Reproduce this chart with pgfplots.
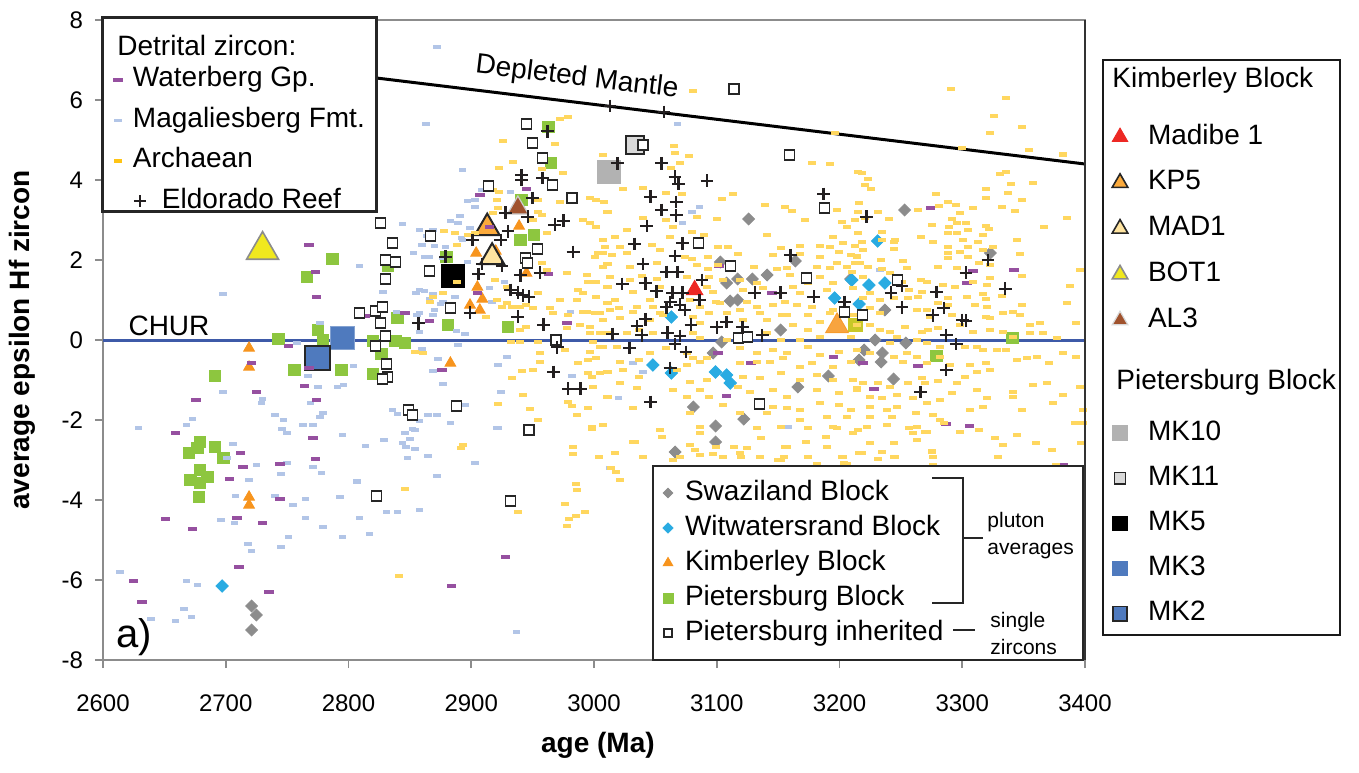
\documentclass[border=0pt]{standalone}
\usepackage{pgfplots}
\pgfplotsset{compat=1.18}
\usepackage{fontspec}
\setmainfont{Liberation Sans}
\usetikzlibrary{plotmarks}

\definecolor{wbc}{RGB}{150,80,160}
\definecolor{mgc}{RGB}{178,197,231}
\definecolor{arc}{RGB}{255,215,95}
\definecolor{arcleg}{RGB}{255,196,20}
\definecolor{crossc}{RGB}{35,31,32}
\definecolor{swc}{RGB}{140,140,140}
\definecolor{wwc}{RGB}{41,171,226}
\definecolor{kbc}{RGB}{247,148,29}
\definecolor{pbc}{RGB}{141,198,63}
\definecolor{churc}{RGB}{62,90,168}
\definecolor{madibec}{RGB}{237,40,36}
\definecolor{kp5c}{RGB}{251,170,60}
\definecolor{mad1c}{RGB}{255,228,160}
\definecolor{bot1c}{RGB}{240,232,30}
\definecolor{al3c}{RGB}{160,82,45}
\definecolor{mk10c}{RGB}{178,178,178}
\definecolor{mk11c}{RGB}{217,217,217}
\definecolor{mkblue}{RGB}{79,122,190}
\definecolor{olivec}{RGB}{200,200,40}

\pgfdeclareplotmark{ydash}{\pgfpathrectangle{\pgfqpoint{-2pt}{-0.9pt}}{\pgfqpoint{4pt}{1.8pt}}\pgfusepathqfill}
\pgfdeclareplotmark{bdash}{\pgfpathrectangle{\pgfqpoint{-1.9pt}{-0.8pt}}{\pgfqpoint{3.8pt}{1.6pt}}\pgfusepathqfill}
\pgfdeclareplotmark{pdash}{\pgfpathrectangle{\pgfqpoint{-2.4pt}{-1.1pt}}{\pgfqpoint{4.8pt}{2.2pt}}\pgfusepathqfill}

\pgfplotsset{
  legimg/.style 2 args={legend image code/.code={%
    \path[draw=none,fill=none] (-#1,-3pt) rectangle (#2,3pt);%
    \pgfinterruptboundingbox\draw[##1] plot coordinates {(0pt,0pt)};\endpgfinterruptboundingbox}},
  legaxis/.style={at={(0pt,0pt)}, anchor=south west, width=491pt, height=320pt, scale only axis, hide axis,
    xmin=0, xmax=1, ymin=0, ymax=1, legend cell align=left},
}

\begin{document}
\begin{tikzpicture}
\begin{axis}[
  at={(0pt,0pt)}, anchor=south west,
  width=491pt, height=320pt, scale only axis,
  xmin=2600, xmax=3400, ymin=-8, ymax=8,
  xtick={2600,2700,...,3400}, ytick={-8,-6,...,8},
  /pgf/number format/1000 sep={},
  /pgf/number format/assume math mode=true,
  ticklabel style={font=\fontsize{12}{14}\selectfont},
  xticklabel style={yshift=-10pt},
  yticklabel style={xshift=-2.5pt},
  tick align=outside, major tick length=4pt,
  xtick pos=bottom, ytick pos=left,
  tick style={draw=black!45, line width=0.9pt},
  axis line style={draw=black!45, line width=1.3pt},
  xlabel={age (Ma)}, ylabel={average epsilon Hf zircon},
  label style={font=\bfseries\fontsize{14}{16}\selectfont},
  xlabel style={at={(axis description cs:0.504,-0.133)}, anchor=center},
  ylabel style={at={(axis description cs:-0.0825,0.5)}, anchor=center},
]
% reference lines
\addplot[churc, line width=1.5pt] coordinates {(2600,0) (3400,0)};
\addplot[black, line width=1.5pt] coordinates {(2600,7.38) (3400,4.40)};

% Pietersburg Block pluton averages
\addplot[only marks, mark=square*, mark size=2.9pt, color=pbc] coordinates {
(2963,5.325)(2965,4.425)(2941,3.5)(2940,2.5)(2951,2.625)(2880,2.075)(2930,0.325)(3341,0.05)(3279,-0.4)
(2787,2.025)(2766,1.575)(2743,0.025)(2775,0.25)(2779,0.0)(2756,-0.75)(2794,-0.75)(2820,-0.85)(2827,-0.35)
(2820,-0.025)(2838,-0.025)(2846,-0.075)(2840,0.55)(2881,0.375)(2691,-0.9)(2832,1.85)
(2679,-2.55)(2677,-2.7)(2670,-2.825)(2691,-2.675)(2698,-2.95)(2679,-3.25)(2685,-3.425)(2671,-3.5)(2679,-3.575)(2678,-3.925)};
\addplot[only marks, mark=square*, mark size=3.3pt, color=olivec] coordinates {(3213,0.375)};

% Swaziland Block
\addplot[only marks, mark=square*, mark size=2.1pt, mark options={rotate=45}, color=swc] coordinates {
(3081,-1.675)(3066,-2.8)(3099,-2.15)(3099,-2.55)(3122,-1.975)(3097,-0.325)(3104,-0.05)(3108,1.425)(3103,1.95)
(3111,0.975)(3117,1.0)(3117,1.525)(3129,1.525)(3141,1.625)(3126,3.025)(3164,1.975)(3152,0.25)(3166,-1.175)
(3191,-0.9)(3209,1.525)(3237,0.75)(3253,3.25)(3229,0.0)(3220,-0.25)(3235,-0.325)(3234,-0.55)(3216,-0.5)
(3244,-0.975)(3254,-0.075)(3323,2.175)(2721,-6.65)(2725,-6.875)(2721,-7.25)};

% Witwatersrand Block
\addplot[only marks, mark=square*, mark size=2.2pt, mark options={rotate=45}, color=wwc] coordinates {
(3048,-0.625)(3063,-0.825)(3099,-0.8)(3108,-0.875)(3111,-1.075)(3063,0.575)(3231,2.475)(3224,1.375)
(3237,1.425)(3196,1.05)(3216,0.9)(3210,1.5)(2697,-6.15)};

% Kimberley Block
\addplot[only marks, mark=triangle*, mark size=3.1pt, color=kbc] coordinates {
(2719,-0.2)(2719,-0.675)(2719,-3.925)(2719,-4.125)(2883,-0.575)(2899,0.875)(2909,1.025)(2907,0.75)
(2905,1.325)(2904,2.175)(2920,2.225)(2939,2.85)(2945,1.675)};

% individual samples
\addplot[only marks, mark=triangle*, mark size=9.2pt, mark options={fill=bot1c, draw=black!45, line width=0.8pt}] coordinates {(2730,2.25)};
\addplot[only marks, mark=triangle*, mark size=7.2pt, mark options={fill=kp5c, draw=black!85, line width=1pt}] coordinates {(2913,2.8)};
\addplot[only marks, mark=triangle*, mark size=7.0pt, mark options={fill=mad1c, draw=black!85, line width=1pt}] coordinates {(2917,2.07)};
\addplot[only marks, mark=triangle*, mark size=6.0pt, mark options={fill=al3c, draw=black!20, line width=0.6pt}] coordinates {(2938,3.3)};
\addplot[only marks, mark=triangle*, mark size=4.8pt, mark options={fill=madibec, draw=madibec}] coordinates {(3082,1.25)};
\addplot[only marks, mark=triangle*, mark size=6.6pt, mark options={fill=kbc, draw=kbc, opacity=0.85}] coordinates {(3198,0.35)};
\addplot[only marks, mark=square*, mark size=5.7pt, mark options={fill=mk10c, draw=mk10c}] coordinates {(3012,4.2)};
\addplot[only marks, mark=square*, mark size=4.5pt, mark options={fill=mk11c, draw=black!85, line width=1pt}] coordinates {(3033,4.87)};
\addplot[only marks, mark=square*, mark size=5.7pt, mark options={fill=black, draw=black}] coordinates {(2885,1.6)};
\addplot[only marks, mark=square*, mark size=5.8pt, mark options={fill=mkblue, draw=mkblue!70}] coordinates {(2795,0.05)};
\addplot[only marks, mark=square*, mark size=6.2pt, mark options={fill=mkblue, draw=black!85, line width=1pt}] coordinates {(2775,-0.45)};

% Magaliesberg Fmt.
\addplot[only marks, mark=bdash, color=mgc] coordinates {
(2698,1.15)(2809,1.85)(2828,1.2)(2855,1.175)(2862,1.225)(2869,1.15)(2877,0.95)(2869,0.625)(2858,0.2)(2860,-0.225)
(2873,-0.475)(2888,0.225)(2895,0.15)(2889,-0.125)(2777,0.425)(2758,-0.075)(2804,-0.65)(2767,-0.9)(2791,-1.175)
(2796,-1.125)(2775,-1.175)(2698,-1.3)(2730,-1.475)(2729,-1.575)(2769,-1.575)(2779,-1.825)(2777,-1.925)(2740,-1.875)
(2747,-2.0)(2673,-1.975)(2668,-2.125)(2629,-2.2)(2746,-2.225)(2750,-2.325)(2763,-2.125)(2771,-2.125)(2795,-2.375)
(2814,-2.65)(2829,-2.5)(2844,-2.575)(2847,-2.675)(2850,-2.475)(2854,-2.725)(2865,-2.9)(2848,-2.95)(2854,-2.25)
(2865,-1.875)(2872,-1.875)(2883,-2.075)(2903,-3.075)(2872,-3.4)(2921,-2.2)(2895,-1.625)(2706,-2.6)(2701,-2.95)
(2725,-3.125)(2750,-3.075)(2771,-3.175)(2778,-3.325)(2745,-3.35)(2719,-3.5)(2793,-3.925)(2807,-3.55)(2765,-3.975)
(2708,-3.9)(2740,-3.9)(2755,-4.125)(2696,-4.5)(2707,-4.575)(2765,-4.45)(2779,-4.675)(2809,-4.45)(2831,-4.3)
(2840,-4.3)(2858,-4.25)(2751,-4.925)(2745,-5.175)(2718,-5.1)(2721,-5.275)(2795,-4.925)(2817,-4.85)(2614,-5.8)
(2668,-6.025)(2677,-6.125)(2666,-6.725)(2672,-6.925)(2639,-6.975)(2659,-7.025)(2937,-7.3)(2872,7.325)(2863,5.4)
(2893,4.25)(2897,3.475)(2903,3.5)(2903,3.325)(2883,2.975)(2889,2.925)(2844,2.9)(2858,2.75)(2869,2.75)(2899,2.8)
(2893,2.5)(2853,2.175)(2862,2.075)(2877,2.05)(2909,3.75)(2932,3.7)(2891,3.1)(2864,2.6)(2860,2.375)(2870,2.35)
(2879,2.325)(2866,2.075)(2892,2.55)(2897,1.95)(2927,1.45)(2915,1.3)(2858,1.25)(2866,1.025)(2875,0.9)(2887,1.075)
(2917,0.95)(2858,0.675)(2870,0.75)(3068,5.4)(3086,3.325)(3080,3.2)(3072,2.925)(2839,0.7)(2856,0.625)(2869,-0.775)
(2877,-1.1)(2922,-0.625)(2929,-0.425)(2924,-1.3)(2982,-0.9)(2836,-1.75)(2840,-1.85)(2858,-2.025)(2893,-1.625)
(2922,-2.2)(2852,-2.225)(2846,-2.325)(2807,-3.525)(3032,-0.575)(3040,-0.8)(3020,-1.45)(3158,-2.175)(3013,-3.2)
(2981,0.7)(3233,1.75)};

% Waterberg Gp.
\addplot[only marks, mark=pdash, color=wbc] coordinates {
(2773,1.7)(2774,1.075)(2814,0.6)(2846,0.675)(2866,0.475)(2751,-0.15)(2721,-0.575)(2768,-0.7)(2876,-0.75)
(2764,-1.15)(2725,-1.3)(2676,-1.5)(2774,-1.5)(2905,1.175)(2659,-2.325)(2771,-2.45)(2712,-2.825)(2773,-2.975)
(2714,-3.175)(2744,-3.1)(2703,-3.475)(2744,-3.975)(2651,-4.475)(2673,-4.725)(2709,-4.45)(2730,-4.575)
(2711,-5.675)(2625,-6.025)(2735,-6.3)(2632,-6.55)(2928,-5.425)(2884,-6.15)(2768,2.375)(2907,3.625)(2945,3.775)
(2915,2.825)(2963,1.65)(2978,0.425)(3102,1.85)(3145,1.175)(3101,-0.325)(3195,-0.425)(3219,-0.575)(3264,-0.65)
(3128,-0.575)(3108,-1.4)(3228,-1.225)(3287,-2.1)(3306,-2.15)(3382,-3.125)(3309,1.725)(3342,1.75)(3304,1.425)
(3274,3.3)};

% Archaean
\addplot[only marks, mark=ydash, color=arc] coordinates {
(3382,4.625)(3331,4.15)(3336,4.2)(3218,4.175)(3223,4.025)(3221,3.875)(3226,3.775)(3358,3.925)(3340,3.9)(3319,3.775)
(3279,3.65)(3337,3.675)(3216,3.425)(3319,3.55)(3349,3.5)(3288,3.45)(3295,3.375)(3281,3.35)(3309,3.3)(3332,3.325)
(3343,3.225)(3298,3.175)(3264,3.25)(3240,3.025)(3292,3.025)(3385,3.05)(3289,2.825)(3319,2.85)(3275,2.875)(3296,2.925)
(3303,2.925)(3367,2.825)(3215,2.675)(3235,2.7)(3288,2.675)(3296,2.675)(3305,2.75)(3317,2.625)(3322,2.775)(3244,2.45)
(3266,2.575)(3276,2.45)(3301,2.5)(3313,2.45)(3345,2.5)(3218,2.45)(3219,2.25)(3214,2.075)(3244,2.275)(3252,1.975)
(3234,2.0)(3288,2.325)(3288,2.175)(3298,2.2)(3305,2.325)(3317,2.25)(3325,2.325)(3347,2.15)(3288,2.05)(3280,1.825)
(3296,1.8)(3305,2.075)(3314,1.925)(3323,1.875)(3235,1.775)(3223,1.825)(3255,1.8)(3217,1.925)(3210,1.7)(3219,1.575)
(3241,1.675)(3251,1.45)(3266,1.5)(3271,1.45)(3257,1.25)(3267,1.2)(3284,1.375)(3294,1.325)(3309,1.45)(3323,1.55)
(3320,1.375)(3349,1.6)(3388,1.35)(3396,1.75)(3211,1.3)(3225,1.175)(3219,1.05)(3233,1.0)(3244,1.05)(3256,1.05)
(3264,1.075)(3280,0.925)(3288,1.05)(3288,0.875)(3304,1.075)(3317,1.15)(3319,1.025)(3332,1.1)(3310,0.875)(3320,0.825)
(3349,0.875)(3385,0.925)(3225,0.8)(3233,0.675)(3263,0.75)(3271,0.75)(3274,0.575)(3292,0.625)(3319,0.575)(3323,0.55)
(3333,0.675)(3341,0.7)(3347,0.625)(3355,0.375)(3363,0.425)(3393,0.425)(3225,0.375)(3233,0.25)(3241,0.2)(3253,0.325)
(3267,0.2)(3272,0.25)(3280,0.3)(3298,0.375)(3309,0.2)(3323,0.25)(3333,0.2)(3341,0.075)(3355,0.175)(3366,0.175)
(3377,0.05)(3247,0.075)(3263,0.0)(3271,-0.075)(3282,-0.175)(3302,-0.175)(3312,-0.175)(3317,-0.25)(3328,-0.25)(3336,-0.25)
(3353,-0.45)(3361,-0.425)(3382,-0.325)(3393,-0.425)(3371,-0.575)(3345,-0.5)(3241,-0.075)(3255,-0.325)(3263,-0.425)(3271,-0.575)
(3252,-0.55)(3225,-0.325)(3244,-0.425)(3282,-0.425)(3290,-0.625)(3306,-0.625)(3319,-0.575)(3323,-0.75)(3312,-0.8)(3302,-0.925)
(3296,-1.075)(3280,-1.025)(3267,-0.95)(3270,-1.075)(3256,-1.075)(3241,-1.175)(3231,-1.075)(3219,-1.075)(3214,-1.25)(3225,-1.425)
(3235,-1.45)(3247,-1.375)(3260,-1.45)(3271,-1.575)(3282,-1.5)(3292,-1.325)(3312,-1.25)(3320,-1.45)(3341,-1.3)(3341,-1.425)
(3358,-1.125)(3369,-1.075)(3382,-1.375)(3396,-1.175)(3225,-1.675)(3239,-1.75)(3247,-1.675)(3262,-1.825)(3276,-1.875)(3282,-2.0)
(3243,-1.925)(3225,-1.925)(3306,-1.75)(3317,-1.675)(3349,-1.75)(3374,-1.575)(3398,-1.75)(3222,-2.175)(3263,-2.175)(3271,-2.3)
(3225,-2.575)(3244,-2.575)(3260,-2.325)(3263,-2.5)(3275,-2.8)(3235,-2.8)(3218,-2.825)(3244,-2.925)(3333,-2.625)(3398,-2.075)
(3065,4.85)(3066,4.675)(3077,4.6)(3070,4.425)(3063,4.3)(3178,4.425)(3192,4.4)(3215,4.2)(3024,3.775)(3040,3.8)
(3059,3.675)(3072,3.65)(3113,3.65)(3104,3.525)(3139,3.375)(3156,3.325)(3161,3.225)(3008,3.45)(3011,3.2)(3040,3.05)
(3059,3.0)(3084,3.075)(3100,3.025)(3172,3.0)(3202,2.95)(3206,2.825)(3213,3.0)(3064,2.825)(3027,2.75)(3080,2.7)
(3062,2.575)(3090,2.625)(3141,2.625)(3195,2.575)(3203,2.425)(3213,2.35)(3017,2.575)(3007,2.5)(3021,2.325)(3047,2.375)
(3101,2.325)(3109,2.325)(3152,2.3)(3168,2.35)(3184,2.35)(3192,2.325)(3200,2.2)(3209,2.125)(3214,2.1)(3007,2.175)
(3015,2.125)(3027,2.175)(3054,2.25)(3074,2.075)(3080,2.025)(3093,2.075)(3117,2.15)(3146,2.125)(3168,2.15)(3184,2.075)
(3011,1.9)(3007,1.825)(3029,1.825)(3051,1.925)(3084,1.875)(3093,1.775)(3101,1.875)(3130,1.825)(3149,1.775)(3157,1.8)
(3182,1.825)(3192,1.8)(3198,1.925)(3206,1.825)(3213,1.925)(3013,1.575)(3029,1.5)(3039,1.6)(3051,1.525)(3076,1.575)
(3094,1.575)(3105,1.5)(3119,1.5)(3133,1.425)(3160,1.625)(3174,1.425)(3184,1.575)(3195,1.425)(3011,1.325)(3032,1.2)
(3054,1.325)(3092,1.325)(3097,1.2)(3121,1.25)(3138,1.3)(3162,1.325)(3168,1.175)(3190,1.25)(3017,1.0)(3046,1.0)
(3078,1.0)(3099,0.95)(3125,0.95)(3146,0.875)(3156,0.95)(3165,0.875)(3013,0.75)(3032,0.7)(3054,0.675)(3094,0.675)
(3108,0.675)(3135,0.675)(3153,0.625)(3174,0.625)(3192,0.675)(3211,0.625)
(3011,0.925)(3020,0.8)(3035,0.825)(3048,0.825)(3086,0.825)(3103,0.925)(3119,0.75)(3133,0.825)(3157,0.625)(3178,0.825)
(3195,0.75)(3007,0.5)(3021,0.55)(3046,0.5)(3056,0.625)(3081,0.575)(3086,0.425)(3121,0.5)(3141,0.5)(3162,0.375)
(3174,0.25)(3184,0.45)(3214,0.375)(3011,0.175)(3027,0.175)(3037,0.25)(3048,0.175)(3081,0.175)(3086,0.05)(3108,0.0)
(3141,0.175)(3152,0.0)(3168,0.0)(3184,0.075)(3209,0.075)(3007,-0.175)(3019,-0.175)(3046,-0.325)(3059,-0.2)(3076,-0.325)
(3081,-0.45)(3092,-0.45)(3119,-0.2)(3133,-0.325)(3146,-0.25)(3157,-0.325)(3174,-0.175)(3184,-0.375)(3200,-0.3)(3214,-0.25)
(3021,-0.55)(3037,-0.5)(3076,-0.625)(3086,-0.55)(3119,-0.575)(3133,-0.55)(3143,-0.55)(3154,-0.45)(3168,-0.675)(3178,-0.575)
(3195,-0.675)(3209,-0.55)(3011,-0.8)(3024,-0.75)(3037,-0.925)(3068,-0.75)(3078,-1.05)(3092,-1.0)(3121,-0.925)(3135,-0.95)
(3152,-0.825)(3168,-1.0)(3182,-0.875)(3195,-1.0)(3211,-1.0)(3021,-1.075)(3035,-1.2)(3064,-1.25)(3086,-1.25)(3117,-1.175)
(3127,-1.3)(3146,-1.25)(3157,-1.425)(3182,-1.25)(3200,-1.325)(3214,-1.2)(3011,-1.425)(3032,-1.7)(3076,-1.425)(3094,-1.425)
(3105,-1.625)(3146,-1.675)(3157,-1.7)(3168,-1.75)(3184,-1.575)(3200,-1.625)(3209,-1.75)(3078,-1.825)(3119,-1.825)(3141,-1.825)
(3168,-2.0)(3190,-1.925)(3206,-1.925)(3007,-2.125)(3054,-2.25)(3086,-2.175)(3133,-2.2)(3152,-2.175)(3174,-2.2)(3195,-2.175)
(3211,-2.325)(3032,-2.55)(3078,-2.625)(3125,-2.7)(3157,-2.675)(3190,-2.675)(3040,-2.925)(3086,-2.875)(3105,-2.925)(3135,-2.925)
(3152,-3.0)(3174,-2.925)(3203,-2.925)(3021,-3.5)(3070,-2.925)(3157,-3.25)
(2979,5.575)(2972,5.525)(2926,4.975)(2968,4.9)(2934,4.45)(2923,4.3)(2958,4.275)(2975,4.175)(2918,3.75)(2921,3.5)
(2922,3.3)(2954,3.5)(2972,3.45)(2997,3.55)(3002,3.5)(2954,3.2)(2950,3.0)(2958,3.125)(2878,2.725)(2897,2.625)
(2903,2.675)(2962,2.675)(2991,3.0)(2997,2.925)(3002,2.825)(3009,2.325)(3003,2.175)(3001,2.075)(2958,1.925)(2962,1.75)
(2978,1.675)(2994,1.625)(2995,1.45)(3002,1.45)(2987,1.25)(2991,1.175)(3002,1.075)(2954,1.175)(2929,1.325)(2919,1.5)
(2921,1.0)(2929,0.925)(2869,1.075)(2877,1.175)(2888,1.45)(2940,0.825)(2950,0.8)(2964,0.8)(2972,1.0)(2986,1.0)
(2991,0.7)(3001,0.675)
(2866,0.95)(2925,0.825)(2933,0.825)(2945,0.875)(2967,0.675)(2979,0.625)(2994,0.7)(3005,0.675)(2945,0.325)(2978,0.3)
(2989,0.375)(2997,0.325)(3005,0.175)(2940,0.25)(2932,-0.05)(2940,-0.05)(2954,-0.05)(2999,-0.05)(3005,-0.175)(2997,0.175)
(2854,-0.3)(2861,-0.325)(2956,-0.325)(2956,-0.55)(2976,-0.25)(2997,-0.3)(2987,-0.575)(2995,-0.5)(3002,-0.45)(2941,-0.775)
(2950,-0.75)(2933,-0.95)(2995,-0.825)(3005,-0.825)(2998,-0.925)(2999,-1.175)(2942,-1.375)(2922,-1.6)(2948,-1.725)(2979,-1.55)
(2982,-1.65)(2995,-1.7)(2986,-1.875)(2998,-2.225)(3007,-2.125)(2893,-2.625)(2892,-2.7)(2983,-2.85)(3004,-2.925)(2846,-3.725)
(2985,-3.6)(2986,-3.75)
(2938,-4.3)(2841,-5.9)(3014,-3.2)(3018,-3.3)(2976,-4.1)(2993,-4.3)(2985,-4.4)(2980,-4.475)(2978,-4.65)
(3082,-2.75)(3097,-2.85)(3119,-2.825)(3150,-3.0)(3182,-3.1)(3202,-2.925)(3206,-3.1)(3216,-2.825)(3231,-2.975)(3245,-2.925)
(3275,-2.775)(3276,-3.125)
(2954,-2.0)(2998,-2.175)(3033,-2.55)(3055,-2.425)(3086,-2.325)(3099,-2.675)(3114,-2.675)(3136,-2.45)(3156,-2.675)(3173,-2.55)
(3189,-2.425)(3198,-2.2)(3215,-2.25)(3239,-2.125)(3257,-2.2)(3270,-2.3)(3285,-2.075)(3298,-2.3)(3314,-2.25)(3327,-2.45)
(3345,-2.375)(3360,-2.575)(3373,-2.75)(3392,-2.075)(3397,-2.575)(2983,-2.675)(3017,-2.825)(3064,-3.0)(3120,-2.925)(3155,-2.925)
(3204,-3.075)(3276,-2.925)(3329,-2.925)(3376,-3.125)
(3291,6.275)(3336,6.05)(3326,5.6)(3349,5.325)(3323,5.175)(3354,4.75)(3382,4.65)(3081,6.225)(3198,3.25)(3215,3.2)
(3221,3.05)(3231,3.2)(3235,2.5)(3245,2.5)(3196,5.175)(3300,4.8)(3007,4.625)
(2923,3.7)(2918,3.175)(2887,2.675)(2888,2.375)(2912,0.575)};

% Pietersburg inherited (single zircons)
\addplot[only marks, mark=square*, mark size=2.5pt, mark options={fill=white, draw=black!85, line width=0.6pt}] coordinates {
(2826,2.925)(2836,2.425)(2867,2.6)(2914,3.85)(2945,5.4)(2950,4.925)(2958,4.55)(2966,3.875)(2982,3.55)(2830,2.0)
(2838,1.95)(2830,1.525)(2866,1.725)(2954,2.275)(2944,2.05)(2946,1.925)(2883,0.8)(2809,0.675)(2822,0.725)(2828,0.825)
(3040,4.875)(3159,4.625)(3188,3.3)(3085,2.425)(3111,1.85)(3173,1.55)(3204,0.7)(3114,6.275)(3247,1.5)(3219,0.625)
(2969,0.0)(3118,0.05)(3125,0.075)(3135,-1.6)(2947,-2.25)(2826,0.425)(2830,0.1)(2822,-0.15)(2831,-0.6)(2832,-0.925)
(2828,-0.975)(2849,-1.75)(2852,-1.875)(2888,-1.65)(2823,-3.9)(2932,-4.025)};

% Eldorado Reef
\addplot[only marks, mark=+, mark size=3.2pt, mark options={line width=1.2pt}, color=crossc] coordinates {
(2962,5.22)(3013,5.85)(3057,5.7)(2941,4.12)(2941,4.0)(2958,4.05)(2950,3.55)(2928,3.18)(2946,3.08)(2930,2.72)
(2901,2.5)(2924,2.5)(2968,2.88)(2975,2.98)(2983,2.2)(2879,2.08)(2909,1.9)(2925,1.85)(2906,1.65)(2940,1.62)
(2956,1.68)(2932,1.25)(2938,1.18)(2942,1.12)(2947,1.08)(2899,0.68)(2938,0.58)(3019,4.42)(3055,4.42)(3066,4.08)
(3069,3.9)(3092,3.98)(3046,3.58)(3067,3.45)(3055,3.25)(3067,3.12)(3043,2.85)(3187,3.65)(3033,2.4)(3072,2.42)
(3066,2.1)(3040,1.9)(3068,1.7)(3059,1.7)(3023,1.4)(3042,1.42)(3051,1.22)(3088,1.5)(3064,1.18)(3072,1.18)
(3062,0.95)(3070,0.88)(3074,0.75)(3059,0.82)(3086,1.0)(3131,1.18)(3152,1.18)(3160,2.12)(3179,1.08)(3204,0.95)
(3222,3.08)(3242,1.18)(3251,1.35)(3279,1.2)(3303,1.68)(3335,1.28)(3321,2.0)(3251,0.82)(3276,0.62)(3285,0.8)
(3300,0.5)(3303,0.48)(3287,0.12)(3295,-0.1)(3287,-0.75)(3266,-1.3)(3015,0.15)(3035,0.35)(3042,0.52)(3039,0.12)
(3029,-0.2)(3060,0.18)(3070,0.1)(3066,-0.1)(3075,-0.3)(3079,0.38)(3100,0.32)(3108,0.45)(3121,0.32)(3137,0.12)
(3062,-0.7)(3046,-1.55)(2857,0.42)(2959,0.38)(2970,-0.18)(2967,-0.8)(2979,-1.22)(2989,-1.22)};
\end{axis}

% right border of the plot area
\draw[black!80, line width=1pt] (491pt,0pt) -- (491pt,320pt);

% annotations
\node[rotate=-6.9, font=\fontsize{14}{16}\selectfont] at (237pt,291pt) {Depleted Mantle};
\node[font=\fontsize{14}{16}\selectfont] at (33pt,167pt) {CHUR};
\node[font=\fontsize{20}{22}\selectfont] at (15.5pt,11.5pt) {a)};

% legend boxes
\draw[black!85, line width=1.5pt, fill=white] (-0.5pt,224pt) rectangle (136.5pt,321pt);
\draw[black!85, line width=1pt, fill=white] (275pt,0pt) rectangle (490pt,97pt);
\draw[black!90, line width=0.8pt, fill=white] (500pt,12.5pt) rectangle (618.5pt,300pt);

% bracket
\draw[black!85, line width=1pt] (414.5pt,91pt) -- (430pt,91pt) -- (430pt,28.5pt) -- (414.5pt,28.5pt);
\draw[black!85, line width=1pt] (430pt,61pt) -- (440pt,61pt);
\draw[black!85, line width=1pt] (425pt,15pt) -- (436pt,15pt);
\node[anchor=west, align=left, font=\fontsize{10.5}{13.5}\selectfont, inner sep=0pt] at (442pt,62pt) {pluton\\averages};
\node[anchor=west, align=left, font=\fontsize{10.5}{13.5}\selectfont, inner sep=0pt] at (443.5pt,13.5pt) {single\\zircons};

% legend headers
\node[anchor=west, inner sep=0pt, font=\fontsize{14}{16}\selectfont] at (7pt,307.5pt) {Detrital zircon:};
\node[anchor=west, inner sep=0pt, font=\fontsize{14}{16}\selectfont] at (504.5pt,290pt) {Kimberley Block};
\node[anchor=west, inner sep=0pt, font=\fontsize{14}{16}\selectfont] at (506.5pt,139pt) {Pietersburg Block};

% legend 1: detrital zircon
\begin{axis}[legaxis, legimg={4pt}{7.5pt},
  legend style={at={(axis description cs:0.00713,0.92656)}, anchor=north west, draw=none, fill=none,
    inner sep=0pt, outer sep=0pt, row sep=7.2pt, font=\fontsize{14}{16}\selectfont,
    nodes={inner sep=0pt, text height=10pt, text depth=3pt}},
]
\addlegendimage{mark=pdash, color=wbc}\addlegendentry{Waterberg Gp.}
\addlegendimage{mark=bdash, color=mgc}\addlegendentry{Magaliesberg Fmt.}
\addlegendimage{mark=ydash, color=arcleg}\addlegendentry{Archaean}
\addlegendimage{mark=+, mark size=3pt, color=crossc, mark options={xshift=11pt, line width=1pt}}\addlegendentry{\hspace*{14.5pt}Eldorado Reef}
\end{axis}

% legend 2: pluton averages
\begin{axis}[legaxis, legimg={4pt}{8.5pt},
  legend style={at={(axis description cs:0.56721,0.28125)}, anchor=north west, draw=none, fill=none,
    inner sep=0pt, outer sep=0pt, row sep=4.5pt, font=\fontsize{14}{16}\selectfont,
    nodes={inner sep=0pt, text height=10pt, text depth=3pt}},
]
\addlegendimage{mark=square*, mark size=1.7pt, mark options={rotate=45}, color=swc}\addlegendentry{Swaziland Block}
\addlegendimage{mark=square*, mark size=1.8pt, mark options={rotate=45}, color=wwc}\addlegendentry{Witwatersrand Block}
\addlegendimage{mark=triangle*, mark size=2.8pt, color=kbc}\addlegendentry{Kimberley Block}
\addlegendimage{mark=square*, mark size=2.5pt, color=pbc}\addlegendentry{Pietersburg Block}
\addlegendimage{mark=square*, mark size=2pt, mark options={fill=white, draw=black!85, line width=0.6pt}}\addlegendentry{Pietersburg inherited}
\end{axis}

% legend 3a: Kimberley Block samples
\begin{axis}[legaxis, legimg={5pt}{14pt},
  legend style={at={(axis description cs:1.02546,0.8375)}, anchor=north west, draw=none, fill=none,
    inner sep=0pt, outer sep=0pt, row sep=9.9pt, font=\fontsize{14}{16}\selectfont,
    nodes={inner sep=0pt, text height=10pt, text depth=3pt}},
]
\addlegendimage{mark=triangle*, mark size=4.5pt, mark options={fill=madibec, draw=madibec}}\addlegendentry{Madibe 1}
\addlegendimage{mark=triangle*, mark size=4.5pt, mark options={fill=kp5c, draw=black!85, line width=0.8pt}}\addlegendentry{KP5}
\addlegendimage{mark=triangle*, mark size=4.5pt, mark options={fill=mad1c, draw=black!85, line width=0.8pt}}\addlegendentry{MAD1}
\addlegendimage{mark=triangle*, mark size=4.5pt, mark options={fill=bot1c, draw=black!45, line width=0.8pt}}\addlegendentry{BOT1}
\addlegendimage{mark=triangle*, mark size=4.5pt, mark options={fill=al3c, draw=black!15, line width=0.6pt}}\addlegendentry{AL3}
\end{axis}

% legend 3b: Pietersburg Block samples
\begin{axis}[legaxis, legimg={5pt}{14pt},
  legend style={at={(axis description cs:1.02546,0.375)}, anchor=north west, draw=none, fill=none,
    inner sep=0pt, outer sep=0pt, row sep=9.6pt, font=\fontsize{14}{16}\selectfont,
    nodes={inner sep=0pt, text height=10pt, text depth=3pt}},
]
\addlegendimage{mark=square*, mark size=3.6pt, mark options={fill=mk10c, draw=mk10c}}\addlegendentry{MK10}
\addlegendimage{mark=square*, mark size=2.8pt, mark options={fill=mk11c, draw=black!85, line width=0.8pt}}\addlegendentry{MK11}
\addlegendimage{mark=square*, mark size=3.6pt, mark options={fill=black, draw=black}}\addlegendentry{MK5}
\addlegendimage{mark=square*, mark size=3.6pt, mark options={fill=mkblue, draw=mkblue}}\addlegendentry{MK3}
\addlegendimage{mark=square*, mark size=3.6pt, mark options={fill=mkblue, draw=black!85, line width=0.8pt}}\addlegendentry{MK2}
\end{axis}

\pgfresetboundingbox
\path[use as bounding box] (-51.5pt,-56pt) rectangle (628pt,330pt);
\end{tikzpicture}
\end{document}
